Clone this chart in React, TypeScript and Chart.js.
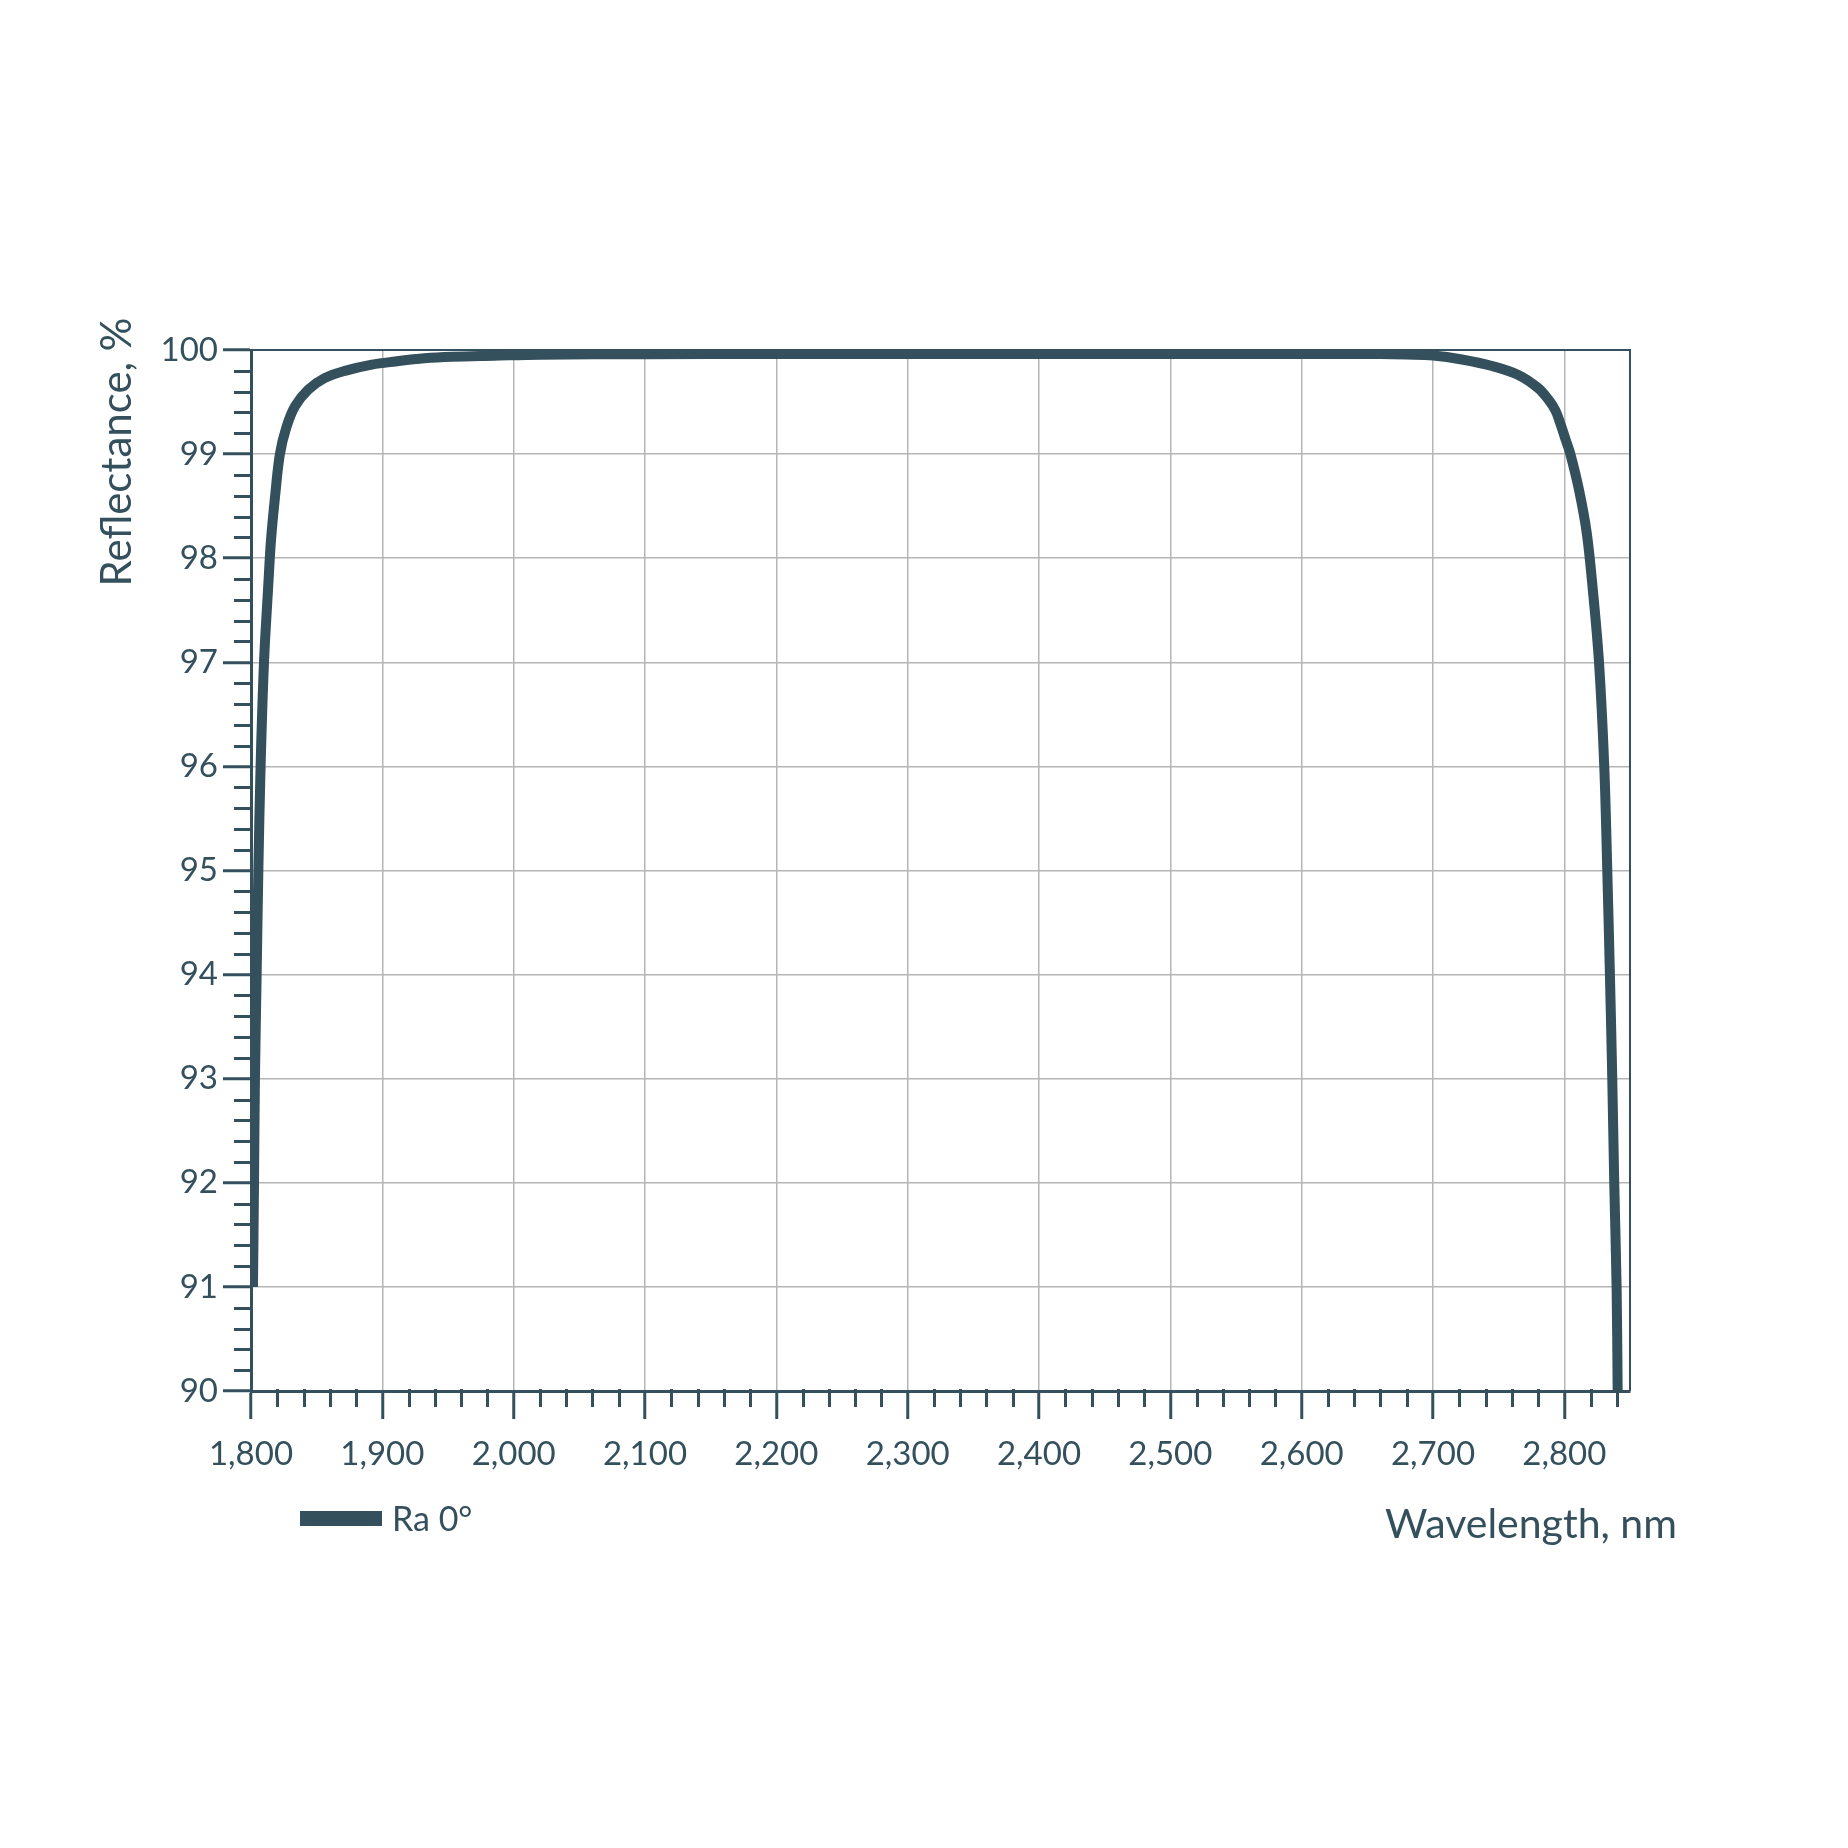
import React, { useEffect, useRef } from 'react';
import { Chart, registerables } from 'chart.js';

Chart.register(...registerables);

// ---- data ----
const wavelengthNm = [
  1801.5, 1802.3, 1803.0, 1804.3, 1805.6, 1807.3, 1809.9, 1813.2, 1815.2, 1818.3,
  1822.0, 1827.0, 1833.5, 1843.6, 1856.0, 1871.5, 1892.0, 1910.0, 1932.0, 1953.0,
  1985.0, 2020.0, 2100.0, 2200.0, 2300.0, 2400.0, 2500.0, 2620.0, 2660.0, 2680.0,
  2700.0, 2722.0, 2745.0, 2765.0, 2780.0, 2787.5, 2793.2, 2797.3, 2801.1, 2804.6,
  2811.2, 2817.1, 2821.7, 2826.4, 2830.4, 2832.7, 2834.7, 2836.5, 2838.0, 2839.8,
  2840.6,
];
const reflectanceRa0 = [
  91.0, 92.0, 93.0, 94.0, 95.0, 96.0, 97.0, 97.75, 98.17, 98.59,
  99.0, 99.26, 99.46, 99.62, 99.73, 99.8, 99.86, 99.89, 99.92, 99.935,
  99.945, 99.955, 99.96, 99.962, 99.962, 99.962, 99.962, 99.962, 99.961, 99.956,
  99.947, 99.909, 99.846, 99.76, 99.635, 99.53, 99.42, 99.28, 99.135, 99.0,
  98.655, 98.24, 97.695, 97.0, 96.0, 95.0, 94.0, 93.0, 92.0, 91.0,
  90.0,
];
const seriesLabel = 'Ra 0°';
const xTitle = 'Wavelength, nm';
const yTitle = 'Reflectance, %';
const xMin = 1800;
const xMax = 2850;
const xMajorTicks = [1800, 1900, 2000, 2100, 2200, 2300, 2400, 2500, 2600, 2700, 2800];
const xMinorStep = 20;
const yMin = 90;
const yMax = 100;
const yMajorTicks = [90, 91, 92, 93, 94, 95, 96, 97, 98, 99, 100];
const yMinorStep = 0.2;

// ---- style ----
const DARK = '#34505c';
const GRID = '#b5b5b5';
const FONT = 'Lato';

const isMajor = (v: number, list: number[]) => list.some((m) => Math.abs(m - v) < 1e-6);

const decorPlugin = {
  id: 'decor',
  beforeDatasetsDraw(chart: any) {
    const { ctx, chartArea } = chart;
    const xs = chart.scales.x;
    const ys = chart.scales.y;
    ctx.save();
    // top & right frame
    ctx.strokeStyle = DARK;
    ctx.lineWidth = 2;
    ctx.beginPath();
    ctx.moveTo(chartArea.left, chartArea.top);
    ctx.lineTo(chartArea.right, chartArea.top);
    ctx.lineTo(chartArea.right, chartArea.bottom);
    ctx.stroke();
    // minor ticks
    ctx.lineWidth = 3;
    ctx.beginPath();
    const nx = Math.round((xMax - xMin) / xMinorStep);
    for (let i = 0; i <= nx; i++) {
      const v = xMin + i * xMinorStep;
      if (isMajor(v, xMajorTicks) || v >= xMax) continue;
      const px = Math.round(xs.getPixelForValue(v)) + 0.5;
      ctx.moveTo(px, chartArea.bottom - 2);
      ctx.lineTo(px, chartArea.bottom + 16);
    }
    const ny = Math.round((yMax - yMin) / yMinorStep);
    for (let i = 0; i <= ny; i++) {
      const v = yMin + i * yMinorStep;
      if (isMajor(v, yMajorTicks)) continue;
      const py = Math.round(ys.getPixelForValue(v)) + 0.5;
      ctx.moveTo(chartArea.left + 2, py);
      ctx.lineTo(chartArea.left - 17, py);
    }
    ctx.stroke();
    ctx.restore();
  },
  afterDraw(chart: any) {
    const { ctx } = chart;
    ctx.save();
    ctx.fillStyle = DARK;
    ctx.textBaseline = 'alphabetic';
    // y title
    ctx.font = `42px ${FONT}`;
    ctx.textAlign = 'center';
    ctx.save();
    ctx.translate(131, 452);
    ctx.rotate(-Math.PI / 2);
    ctx.fillText(yTitle, 0, 0);
    ctx.restore();
    // x title
    ctx.font = `41px ${FONT}`;
    ctx.textAlign = 'center';
    ctx.fillText(xTitle, 1531, 1538);
    // legend
    const ds = chart.data.datasets[0];
    ctx.fillStyle = ds.borderColor;
    ctx.fillRect(300, 1511, 82, 15);
    ctx.fillStyle = DARK;
    ctx.font = `34px ${FONT}`;
    ctx.textAlign = 'left';
    ctx.fillText(ds.label, 392, 1531);
    ctx.restore();
  },
};

export default function App() {
  const canvasRef = useRef<HTMLCanvasElement | null>(null);

  useEffect(() => {
    const canvas = canvasRef.current;
    if (!canvas) return;
    const points = wavelengthNm.map((x, i) => ({ x, y: reflectanceRa0[i] }));
    const tickFont = { family: FONT, size: 33 };
    const chart = new Chart(canvas, {
      type: 'line',
      data: {
        datasets: [
          {
            label: seriesLabel,
            data: points,
            borderColor: DARK,
            backgroundColor: DARK,
            borderWidth: 10,
            pointRadius: 0,
            fill: false,
            tension: 0.35,
            capBezierPoints: true,
          },
        ],
      },
      options: {
        animation: false,
        responsive: false,
        devicePixelRatio: 1,
        layout: { padding: { left: 151, top: 350, right: 218, bottom: 357 } },
        plugins: {
          legend: { display: false },
          tooltip: { enabled: false },
        },
        scales: {
          x: {
            type: 'linear',
            min: xMin,
            max: xMax,
            afterBuildTicks: (s: any) => {
              s.ticks = xMajorTicks.map((value) => ({ value }));
            },
            afterFit: (s: any) => {
              s.height = 100;
            },
            ticks: {
              padding: 16,
              color: DARK,
              font: tickFont,
              maxRotation: 0,
              autoSkip: false,
              callback: (v: any) => Number(v).toLocaleString('en-US'),
            },
            grid: {
              color: GRID,
              lineWidth: 1.5,
              tickLength: 28,
              tickColor: DARK,
              tickWidth: 3,
              drawTicks: true,
            },
            border: { display: true, color: DARK, width: 3 },
          },
          y: {
            type: 'linear',
            min: yMin,
            max: yMax,
            afterBuildTicks: (s: any) => {
              s.ticks = yMajorTicks.map((value) => ({ value }));
            },
            afterFit: (s: any) => {
              s.width = 100;
            },
            ticks: {
              padding: 5,
              color: DARK,
              font: tickFont,
              autoSkip: false,
            },
            grid: {
              color: GRID,
              lineWidth: 1.5,
              tickLength: 28,
              tickColor: DARK,
              tickWidth: 3,
              drawTicks: true,
            },
            border: { display: true, color: DARK, width: 3 },
          },
        },
      },
      plugins: [decorPlugin],
    } as any);
    return () => chart.destroy();
  }, []);

  return (
    <div style={{ position: 'absolute', left: 0, top: 0, width: 1848, height: 1848, background: '#fff' }}>
      <canvas ref={canvasRef} width={1848} height={1848} style={{ display: 'block' }} />
    </div>
  );
}
